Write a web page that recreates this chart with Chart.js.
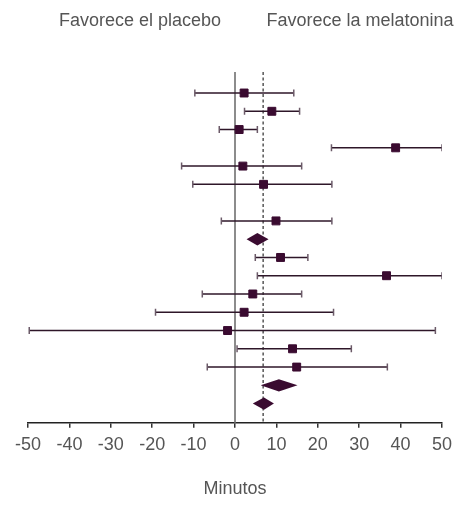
<!DOCTYPE html>
<html>
<head>
<meta charset="utf-8">
<script src="https://cdn.jsdelivr.net/npm/chart.js@4/dist/chart.umd.min.js"></script>
<style>
  html, body { margin: 0; padding: 0; background: #ffffff; }
  #wrap { width: 461px; height: 505px; position: relative; }
</style>
</head>
<body>
<div id="wrap"><canvas id="c" width="461" height="505"></canvas></div>
<script>
// ---- Data (minutes) ----
const headerLeft = 'Favorece el placebo';
const headerRight = 'Favorece la melatonina';
const axisTitle = 'Minutos';
const xTicks = [-50, -40, -30, -20, -10, 0, 10, 20, 30, 40, 50];

// one entry per row, top to bottom (null = empty row)
const estimate = [2.2, 8.9, 1.0, 38.8, 1.9, 6.9, null, 9.9, 5.4, 11.0, 36.6, 4.3, 2.2, -1.8, 13.9, 14.9, 10.6, 7.0];
const lowerCI  = [-9.7, 2.3, -3.8, 23.3, -12.9, -10.2, null, -3.3, 2.8, 4.9, 5.4, -7.9, -19.2, -49.7, 0.5, -6.7, 6.2, 4.3];
const upperCI  = [14.2, 15.6, 5.4, 50.0, 16.1, 23.4, null, 23.4, 8.1, 17.6, 50.0, 16.1, 23.8, 48.4, 28.1, 36.8, 15.1, 9.4];
const isSummary = [false, false, false, false, false, false, false, false, true, false, false, false, false, false, false, false, true, true];
const overallEffect = 6.8;
const noEffect = 0;

// ---- Build datasets ----
const Y_MIN = -0.15, Y_MAX = 19.05;
const ink = '#2e1629';
const markColor = '#3a0b30';
const datasets = [];

datasets.push({
  type: 'line', data: [{x: noEffect, y: Y_MIN}, {x: noEffect, y: Y_MAX}],
  borderColor: '#8c8c8c', borderWidth: 2, pointRadius: 0, order: 5
});
datasets.push({
  type: 'line', data: [{x: overallEffect, y: Y_MIN}, {x: overallEffect, y: Y_MAX}],
  borderColor: '#555555', borderWidth: 1.5, borderDash: [3, 2.5], pointRadius: 0, order: 4
});

estimate.forEach((v, i) => {
  if (v === null || isSummary[i]) return;
  datasets.push({
    type: 'line',
    data: [{x: lowerCI[i], y: i + 1}, {x: upperCI[i], y: i + 1}],
    borderColor: ink, borderWidth: 1.5,
    pointStyle: 'line', rotation: 90, pointRadius: 3.5,
    pointBorderColor: '#6b5a68', pointBorderWidth: 1.5,
    order: 3
  });
});

datasets.push({
  type: 'scatter',
  data: estimate.map((v, i) => (v === null || isSummary[i]) ? null : {x: v, y: i + 1}).filter(p => p),
  pointStyle: 'rect', pointRadius: 5.6,
  backgroundColor: markColor, borderColor: markColor, borderWidth: 1,
  order: 1
});

// diamonds for summary rows, drawn through the chart scales
const diamondPlugin = {
  id: 'diamonds',
  afterDatasetsDraw(chart) {
    const xs = chart.scales.x, ys = chart.scales.y;
    const ctx = chart.ctx;
    ctx.save();
    ctx.fillStyle = markColor;
    estimate.forEach((v, i) => {
      if (!isSummary[i]) return;
      const yc = ys.getPixelForValue(i + 1);
      const hh = Math.abs(ys.getPixelForValue(i + 1.34) - yc);
      ctx.beginPath();
      ctx.moveTo(xs.getPixelForValue(lowerCI[i]), yc);
      ctx.lineTo(xs.getPixelForValue(v), yc - hh);
      ctx.lineTo(xs.getPixelForValue(upperCI[i]), yc);
      ctx.lineTo(xs.getPixelForValue(v), yc + hh);
      ctx.closePath();
      ctx.fill();
    });
    ctx.restore();
  }
};

const headerPlugin = {
  id: 'headers',
  afterDraw(chart) {
    const ctx = chart.ctx;
    ctx.save();
    ctx.font = '18px "Liberation Sans", Arial, sans-serif';
    ctx.fillStyle = '#555555';
    ctx.textAlign = 'center';
    ctx.textBaseline = 'alphabetic';
    ctx.fillText(headerLeft, 140, 26);
    ctx.fillText(headerRight, 360, 26);
    ctx.restore();
  }
};

new Chart(document.getElementById('c'), {
  type: 'scatter',
  data: { datasets },
  options: {
    responsive: false,
    animation: false,
    layout: { padding: { left: 28, right: 19, top: 72, bottom: 2 } },
    plugins: { legend: { display: false }, tooltip: { enabled: false } },
    scales: {
      x: {
        type: 'linear', min: xTicks[0], max: xTicks[xTicks.length - 1],
        afterBuildTicks: (s) => { s.ticks = xTicks.map(v => ({value: v})); },
        ticks: { color: '#555555', padding: 6, font: { family: '"Liberation Sans", Arial, sans-serif', size: 18 }, maxRotation: 0, autoSkip: false },
        grid: { drawOnChartArea: false, drawTicks: true, tickLength: 5, color: '#333333', lineWidth: 1.5 },
        border: { display: true, color: '#222222', width: 1.5 },
        title: { display: true, text: axisTitle, color: '#555555', font: { family: '"Liberation Sans", Arial, sans-serif', size: 18 }, padding: { top: 17, bottom: 3 } }
      },
      y: { type: 'linear', reverse: true, min: Y_MIN, max: Y_MAX, display: false }
    }
  },
  plugins: [diamondPlugin, headerPlugin]
});
</script>
</body>
</html>
